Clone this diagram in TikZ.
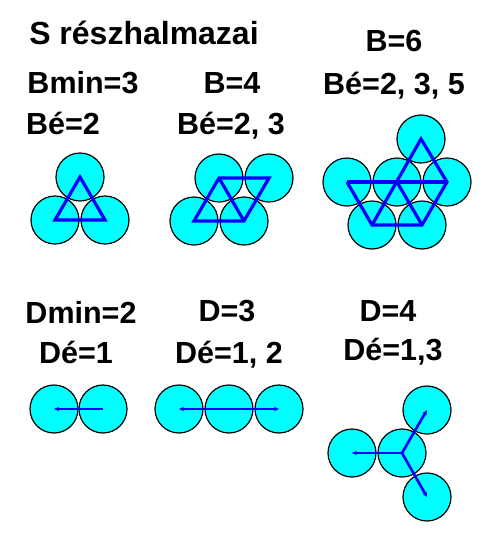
\documentclass[tikz,border=0pt]{standalone}
\usepackage{fontspec}
\setmainfont{Liberation Sans}
\usetikzlibrary{arrows.meta}
\definecolor{ballfill}{RGB}{0,255,255}
\definecolor{lineblue}{RGB}{0,0,255}

\begin{document}
\begin{tikzpicture}[x=1pt,y=-1pt,
  ball/.style={circle,draw=black,fill=ballfill,line width=1.2pt,minimum size=48pt,inner sep=0pt},
  edge/.style={lineblue,line width=3.2pt},
  arr/.style={lineblue,line width=2.6pt,-{Stealth[length=5pt,width=4.5pt]}},
  lbl/.style={anchor=base,inner sep=0pt,font=\fontsize{30.5}{34}\bfseries\selectfont}]
\useasboundingbox (0,0) rectangle (500,550);
% labels
\node[lbl,font=\fontsize{32}{36}\bfseries\selectfont] (title) at (144,44) {S részhalmazai};
\node[lbl] (bmin) at (83,93) {Bmin=3};
\node[lbl] (bemin) at (63,134) {Bé=2};
\node[lbl] (b4) at (232,93) {B=4};
\node[lbl] (be4) at (231,134) {Bé=2, 3};
\node[lbl] (b6) at (394,51) {B=6};
\node[lbl] (be6) at (394,94) {Bé=2, 3, 5};
\node[lbl] (dmin) at (81,323) {Dmin=2};
\node[lbl] (demin) at (76,363) {Dé=1};
\node[lbl] (d3) at (227,321) {D=3};
\node[lbl] (de3) at (229,363) {Dé=1, 2};
\node[lbl] (d4) at (388,321) {D=4};
\node[lbl] (de4) at (393,360) {Dé=1,3};
% B=3
\node[ball] (pt) at (80,177) {};
\node[ball] (pl) at (55,220) {};
\node[ball] (pr) at (105,220) {};
\draw[edge] (pt.center) -- (pl.center) -- (pr.center) -- cycle;
% B=4
\node[ball] (qtl) at (219,178) {};
\node[ball] (qtr) at (269,178) {};
\node[ball] (qbl) at (194,221) {};
\node[ball] (qbr) at (244,221) {};
\draw[edge] (qbl.center) -- (qtl.center) -- (qtr.center) -- (qbr.center) -- cycle;
\draw[edge] (qtl.center) -- (qbr.center);
% B=6
\node[ball] (rt) at (421,139) {};
\node[ball] (rml) at (347,182) {};
\node[ball] (rmc) at (397,182) {};
\node[ball] (rmr) at (447,182) {};
\node[ball] (rbl) at (372,225) {};
\node[ball] (rbr) at (422,225) {};
\draw[edge] (rml.center) -- (rbl.center) -- (rbr.center) -- (rmr.center) -- (rt.center) -- (rbl.center);
\draw[edge] (rml.center) -- (rmr.center);
\draw[edge] (rmc.center) -- (rbr.center);
% D=2
\node[ball] (sl) at (54,409) {};
\node[ball] (sr) at (103,409) {};
\draw[arr,{Stealth[length=5pt,width=4.5pt]}-] (sl.center) -- (sr.center);
% D=3
\node[ball] (ul) at (179,409) {};
\node[ball] (um) at (229,409) {};
\node[ball] (ur) at (279,409) {};
\draw[arr] (um.center) -- (ul.center);
\draw[arr] (um.center) -- (ur.center);
% D=4
\node[ball] (vc) at (402,453) {};
\node[ball] (vl) at (352,453) {};
\node[ball] (vtr) at (427,410) {};
\node[ball] (vbr) at (427,497) {};
\draw[arr] (vc.center) -- (vl.center);
\draw[arr] (vc.center) -- (vtr.center);
\draw[arr] (vc.center) -- (vbr.center);
\end{tikzpicture}
\end{document}
